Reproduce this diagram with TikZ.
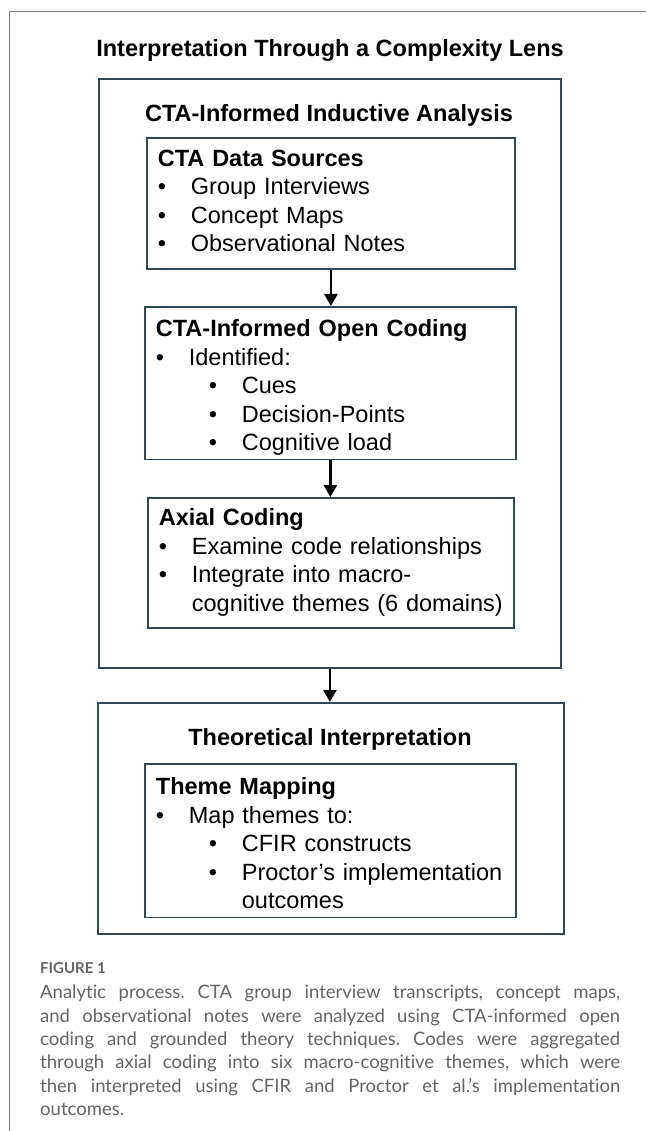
\documentclass[tikz,border=0pt]{standalone}
\usepackage{fontspec}
\setmainfont{Liberation Sans}
\newfontfamily\capfont[Ligatures=NoCommon]{Lato}
\usetikzlibrary{arrows.meta,positioning}

\definecolor{boxline}{RGB}{50,70,84}
\definecolor{framegray}{RGB}{125,125,125}
\definecolor{capgray}{RGB}{100,100,100}

\newcommand{\blt}[1]{\makebox[33pt][l]{\textbullet}#1}
\newcommand{\sblt}[1]{\hspace*{53pt}\makebox[33pt][l]{\textbullet}#1}

\begin{document}
\begin{tikzpicture}[
      x=1pt, y=1pt,
      >={Triangle[length=12pt,width=13pt]},
      font=\fontsize{23.5}{28.5}\selectfont,
      inbox/.style ={rectangle, draw=boxline, line width=1.8pt, align=left,
                     inner xsep=11pt, inner ysep=0pt, anchor=north west,
                     execute at begin node=\strut, execute at end node=\strut},
      outbox/.style={rectangle, draw=boxline, line width=1.8pt, anchor=north west},
      head/.style  ={font=\fontsize{23.5}{28.5}\selectfont\bfseries},
      flow/.style  ={->, draw=black, line width=2.6pt}
    ]
    \useasboundingbox (0,0) rectangle (646,-1131);
    % --- page frame ---
    \draw[framegray, line width=1pt] (646,-12) -- (9,-12) -- (9,-1131);
    % --- title and outer boxes ---
    \node[head] (ttl) at (330,-50) {Interpretation Through a Complexity Lens};
    \node[outbox, minimum width=462pt, minimum height=589pt] (ind) at (98,-78) {};
    \node[head] (indhd) at (329,-115) {CTA-Informed Inductive Analysis};
    \node[outbox, minimum width=466pt, minimum height=231pt] (theo) at (97,-702) {};
    \node[head] (theohd) at (330,-739) {Theoretical Interpretation};
    % --- inner boxes ---
    \node[inbox, text width=346pt, minimum width=368pt, minimum height=131pt] (src) at (146,-137)
      {\textbf{CTA Data Sources}\\ \blt{Group Interviews}\\ \blt{Concept Maps}\\ \blt{Observational Notes}};
    \node[inbox, text width=349pt, minimum width=371pt, minimum height=152pt] (opn) at (144,-306)
      {\rule{0pt}{30pt}\textbf{CTA-Informed Open Coding}\\ \blt{Identified:}\\ \sblt{Cues}\\ \sblt{Decision-Points}\\ \sblt{Cognitive load}};
    \node[inbox, text width=344pt, minimum width=366pt, minimum height=130pt] (axl) at (147,-497)
      {\textbf{Axial Coding}\\ \blt{Examine code relationships}\\ \blt{Integrate into macro-}\\ \hspace*{33pt}cognitive themes (6 domains)};
    \node[inbox, text width=349pt, minimum width=371pt, minimum height=150pt] (tmap) at (144,-763)
      {\rule{0pt}{31pt}\textbf{Theme Mapping}\\ \blt{Map themes to:}\\ \sblt{CFIR constructs}\\ \sblt{Proctor’s implementation}\\ \hspace*{86pt}outcomes};
    % --- arrows ---
    \draw[flow] (src.south) -- (src.south |- opn.north);
    \draw[flow] (opn.south) -- (opn.south |- axl.north);
    \draw[flow] (ind.south) -- (ind.south |- theo.north);
    % --- caption ---
    \node[anchor=west, inner sep=0pt, text=capgray, font=\capfont\bfseries\fontsize{15}{18}\selectfont] (figlbl) at (40,-968) {FIGURE 1};
    \node[anchor=north west, inner sep=0pt, text width=580pt, align=justify, text=capgray,
          font=\capfont\fontsize{18.5}{23.3}\selectfont] (capt) at (40,-985)
      {\frenchspacing Analytic process. CTA group interview transcripts, concept maps,\linebreak
       and observational notes were analyzed using CTA-informed open\linebreak
       coding and grounded theory techniques. Codes were aggregated\linebreak
       through axial coding into six macro-cognitive themes, which were\linebreak
       then interpreted using CFIR and Proctor et al.’s implementation\linebreak
       outcomes.};
  \end{tikzpicture}
\end{document}
